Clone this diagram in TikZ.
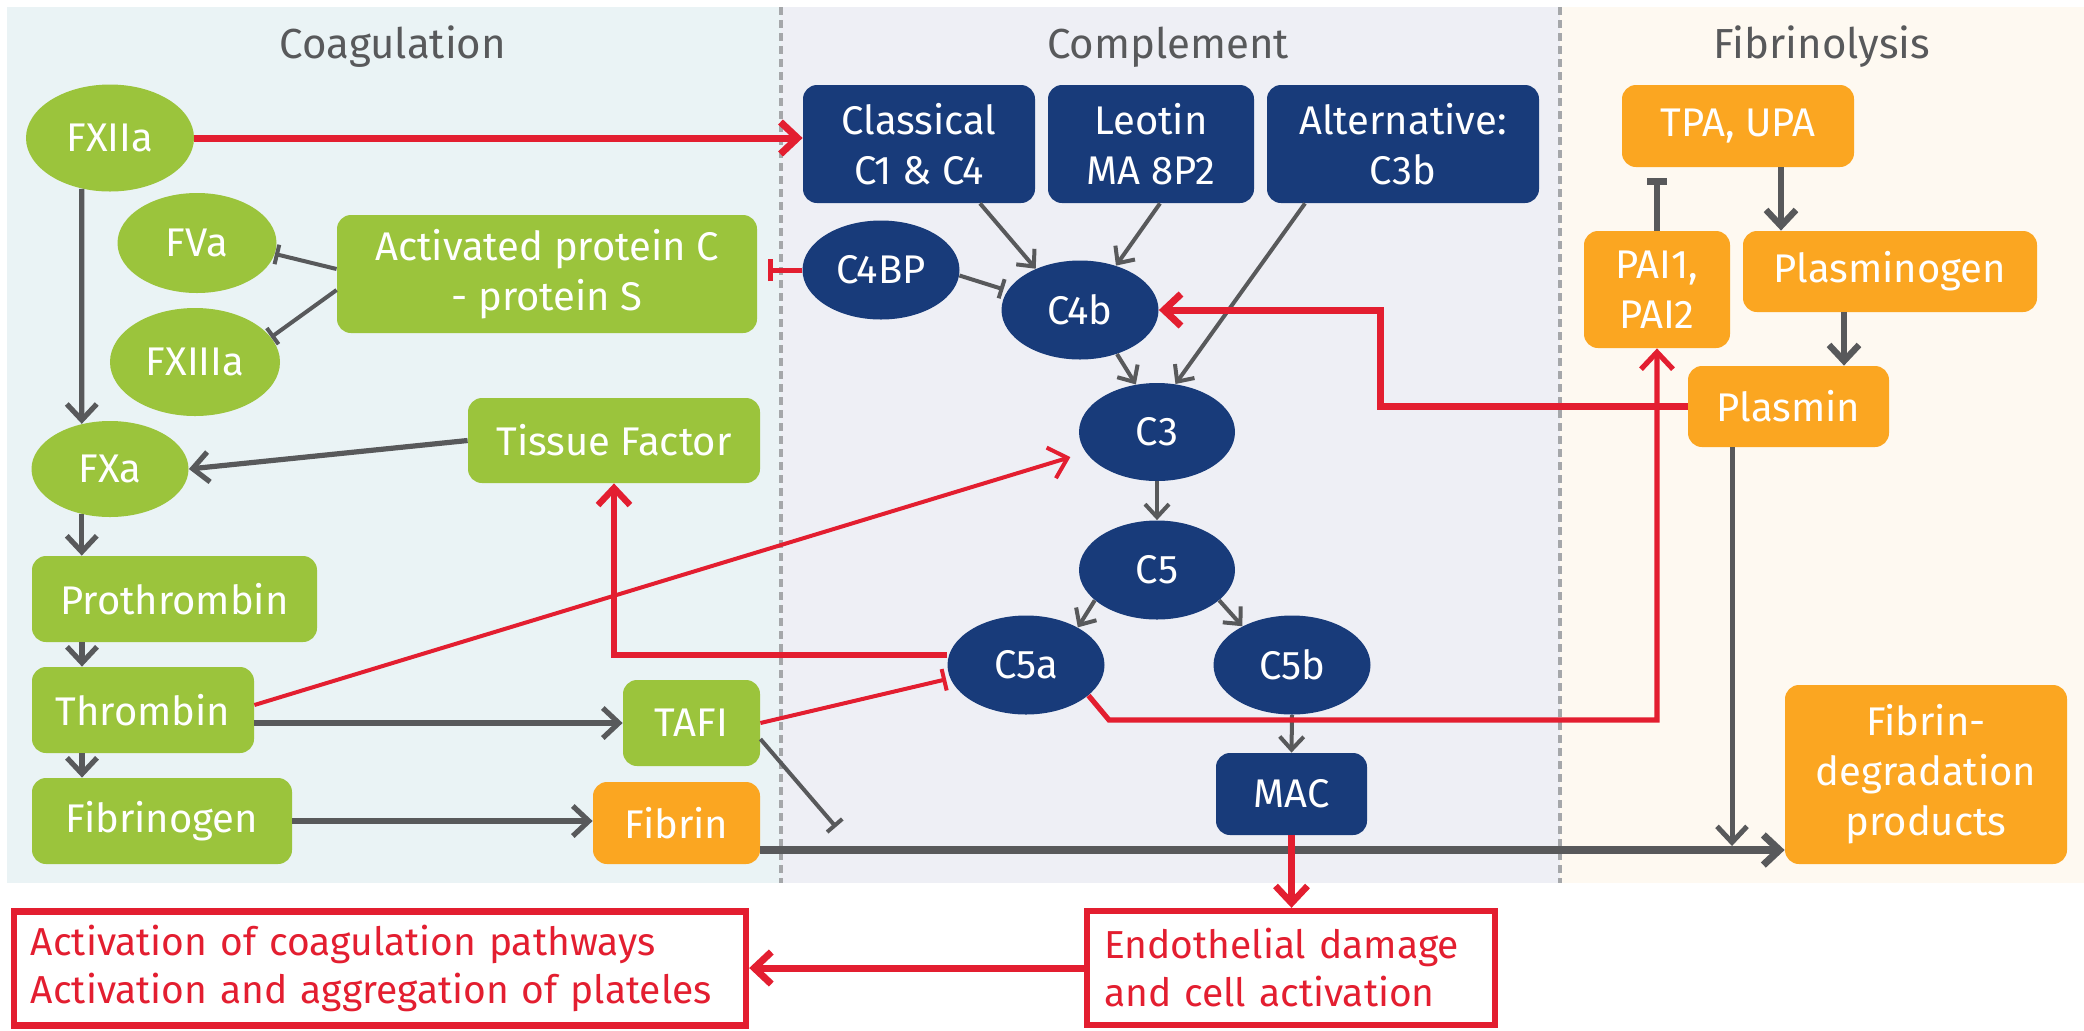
\documentclass[tikz,border=0pt]{standalone}
\usepackage{fontspec}
\setmainfont{Fira Sans}
\usetikzlibrary{arrows.meta,shapes.geometric,calc}
\definecolor{cgreen}{RGB}{155,196,60}
\definecolor{cblue}{RGB}{24,59,122}
\definecolor{corange}{RGB}{251,166,33}
\definecolor{cred}{RGB}{227,30,48}
\definecolor{cgray}{RGB}{88,89,91}
\definecolor{bgcoag}{RGB}{234,243,245}
\definecolor{bgcomp}{RGB}{238,239,245}
\definecolor{bgfib}{RGB}{254,249,241}
\definecolor{dashgray}{RGB}{165,167,170}
\hyphenpenalty=10000
\exhyphenpenalty=10000
\begin{document}
\begin{tikzpicture}[x=0.5pt,y=-0.5pt,
  txt/.style={font=\fontsize{20}{25}\selectfont, text=white, align=center, inner sep=0pt},
  sz/.style 2 args={minimum width=#1, minimum height=#2},
  gell/.style={txt, ellipse, fill=cgreen},
  gbox/.style={txt, rectangle, rounded corners=7pt, fill=cgreen},
  bell/.style={txt, ellipse, fill=cblue},
  bbox/.style={txt, rectangle, rounded corners=7pt, fill=cblue},
  obox/.style={txt, rectangle, rounded corners=7pt, fill=corange},
  rbox/.style={font=\fontsize{19.5}{24}\selectfont, text=cred, align=left, draw=cred, line width=3.2pt, fill=white, inner ysep=0pt},
  title/.style={font=\fontsize{21}{25}\selectfont, text=cgray},
  gline/.style={draw=cgray, line width=2.6pt},
  garr/.style={gline, -{Straight Barb[length=8pt,width=15pt]}},
  carr/.style={draw=cgray, line width=2pt, -{Straight Barb[length=6.5pt,width=12pt]}},
  gbar/.style={draw=cgray, line width=2pt, -{Bar[width=10pt]}},
  rarr/.style={draw=cred, -{Straight Barb[length=8.5pt,width=16pt]}},
  rbar/.style={draw=cred, -{Bar[width=11pt]}}
]
\useasboundingbox (0,0) rectangle (2084,1030);
\fill[white] (0,0) rectangle (2084,1030);
% panels
\fill[bgcoag] (7,7) rectangle (781,883);
\fill[bgcomp] (781,7) rectangle (1560,883);
\fill[bgfib] (1560,7) rectangle (2084,883);
\draw[dashgray, line width=2pt, dash pattern=on 4pt off 2.5pt] (781,7) -- (781,883);
\draw[dashgray, line width=2pt, dash pattern=on 4pt off 2.5pt] (1560,7) -- (1560,883);
% titles
\node[title] (tcoag) at (393,47) {Coagulation};
\node[title] (tcomp) at (1168,47) {Complement};
\node[title] (tfib) at (1822,47) {Fibrinolysis};
% coagulation nodes
\node[gell, sz={84pt}{53.5pt}] (FXIIa) at (110,138) {FXIIa};
\node[gell, sz={79.5pt}{50pt}] (FVa) at (197,243) {FVa};
\node[gell, sz={85pt}{54pt}] (FXIIIa) at (195,362) {FXIIIa};
\node[gbox, sz={210pt}{59pt}] (APC) at (547,274) {Activated protein C\\- protein S};
\node[gbox, sz={146pt}{42.5pt}] (TF) at (614,440.5) {Tissue Factor};
\node[gell, sz={78.5pt}{48pt}] (FXa) at (110,469) {FXa};
\node[gbox, sz={142.5pt}{43pt}] (Prothrombin) at (174.5,599) {Prothrombin};
\node[gbox, sz={111pt}{43pt}] (Thrombin) at (143,710) {Thrombin};
\node[gbox, sz={130pt}{43pt}] (Fibrinogen) at (162,821) {Fibrinogen};
\node[gbox, sz={68.5pt}{43pt}] (TAFI) at (691.5,723) {TAFI};
\node[obox, sz={83.5pt}{41pt}] (Fibrin) at (676.5,823) {Fibrin};
% complement nodes
\node[bbox, sz={116pt}{59pt}] (Classical) at (919,144) {Classical\\C1 \& C4};
\node[bbox, sz={103pt}{59pt}] (Leotin) at (1151,144) {Leotin\\MA 8P2};
\node[bbox, sz={136pt}{59pt}] (Alternative) at (1403,144) {Alternative:\\C3b};
\node[bell, sz={78.5pt}{49.5pt}] (C4BP) at (881,270) {C4BP};
\node[bell, sz={78.5pt}{49.5pt}] (C4b) at (1080,310) {C4b};
\node[bell, sz={78pt}{49pt}] (C3) at (1157,432) {C3};
\node[bell, sz={78pt}{49.5pt}] (C5) at (1157,570) {C5};
\node[bell, sz={78.5pt}{49.5pt}] (C5a) at (1026,665) {C5a};
\node[bell, sz={78.5pt}{49.5pt}] (C5b) at (1292,665) {C5b};
\node[bbox, sz={75.5pt}{41pt}] (MAC) at (1291.5,794) {MAC};
% fibrinolysis nodes
\node[obox, sz={116pt}{41pt}] (TPA) at (1738,126) {TPA, UPA};
\node[obox, sz={73pt}{58.5pt}] (PAI) at (1657,289.5) {PAI1,\\PAI2};
\node[obox, sz={147pt}{40.5pt}] (Plasminogen) at (1890,271.5) {Plasminogen};
\node[obox, sz={100.5pt}{40.5pt}] (Plasmin) at (1788.5,406.5) {Plasmin};
\node[obox, sz={141pt}{89.5pt}] (FDP) at (1926,774.5) {Fibrin-\\degradation\\products};
% bottom boxes
\node[rbox, text width=349pt, inner xsep=8.5pt, minimum height=57pt] (Act) at (380,968.5) {Activation of coagulation pathways\\Activation and aggregation of plateles};
\node[rbox, text width=187pt, inner xsep=8.5pt, minimum height=57pt] (Endo) at (1291,968) {Endothelial damage\\and cell activation};
% helper coordinates
\coordinate (colx) at (82,0);
\coordinate (tafiend) at (836,827);
\coordinate (junction) at (1732,850);
\coordinate (pcx) at (1380,0);
\coordinate (c5ak) at (1109,720);
% coagulation connectors
\draw[garr] (FXIIa.-119) -- (FXa.122);
\draw[gbar] ([yshift=2.5pt]APC.west) -- (FVa.-8);
\draw[gbar] ([yshift=-8pt]APC.west) -- (FXIIIa.18);
\draw[garr] (TF.west) -- (FXa.east);
\draw[garr] (FXa.-122) -- (FXa.-122 |- Prothrombin.north);
\draw[garr] (colx |- Prothrombin.south) -- (colx |- Thrombin.north);
\draw[garr] (colx |- Thrombin.south) -- (colx |- Fibrinogen.north);
\draw[garr] (Fibrinogen.east) -- (Fibrinogen.east -| Fibrin.west);
\draw[garr] (TAFI.west -| Thrombin.east) -- (TAFI.west);
\draw[gbar] ([yshift=-8pt]TAFI.east) -- (tafiend);
\draw[garr, line width=3.6pt] ([yshift=-13.5pt]Fibrin.east) -- ([yshift=-13.5pt]Fibrin.east -| FDP.west);
% complement connectors
\draw[carr] ([xshift=30.5pt]Classical.south) -- (C4b.137);
\draw[carr] ([xshift=4.5pt]Leotin.south) -- (C4b.51);
\draw[carr] ([xshift=-49pt]Alternative.south) -- (C3.69);
\draw[carr] (C4b.-50) -- (C3.114);
\draw[gbar, shorten >=2pt] (C4BP.-4) -- (C4b.165);
\draw[carr] (C3.south) -- (C5.north);
\draw[carr] (C5.206) -- (C5a.36);
\draw[carr] (C5.-26) -- (C5b.142);
\draw[carr] (C5b.south) -- (MAC.north);
% fibrinolysis connectors
\draw[draw=cgray, line width=3.2pt, -{Bar[width=10pt]}, shorten >=5.5pt] (PAI.north) -- (PAI.north |- TPA.south);
\draw[garr, line width=3.2pt] ([xshift=21.5pt]TPA.south) -- ([xshift=21.5pt]TPA.south |- Plasminogen.north);
\draw[garr, line width=3.2pt] ([xshift=-23pt]Plasminogen.south) -- ([xshift=-23pt]Plasminogen.south |- Plasmin.north);
\draw[garr, line width=2.5pt, shorten >=2pt] ([xshift=-28.25pt]Plasmin.south) -- (junction);
% red connectors
\draw[rarr, line width=3.5pt] (FXIIa.east) -- (FXIIa.east -| Classical.west);
\draw[rarr, line width=2pt, shorten >=8pt] ([yshift=2.5pt]Thrombin.east) -- (C3.196);
\draw[rarr, line width=3.2pt] ([yshift=5pt]C5a.west) -| (TF.south);
\draw[rbar, line width=2pt, shorten >=2pt] (TAFI.east) -- (C5a.190);
\draw[rbar, line width=2.5pt, shorten >=5.5pt] (C4BP.west) -- (C4BP.west -| APC.east);
\draw[rarr, line width=3.5pt] (Plasmin.west) -- (Plasmin.west -| pcx) -- (pcx |- C4b.east) -- (C4b.east);
\draw[rarr, line width=2.6pt] (C5a.-26) -- (c5ak) -- (c5ak -| PAI.south) -- (PAI.south);
\draw[rarr, line width=3.3pt] (MAC.south) -- (MAC.south |- Endo.north);
\draw[rarr, line width=3.5pt] (Endo.west) -- (Endo.west -| Act.east);
\end{tikzpicture}
\end{document}
